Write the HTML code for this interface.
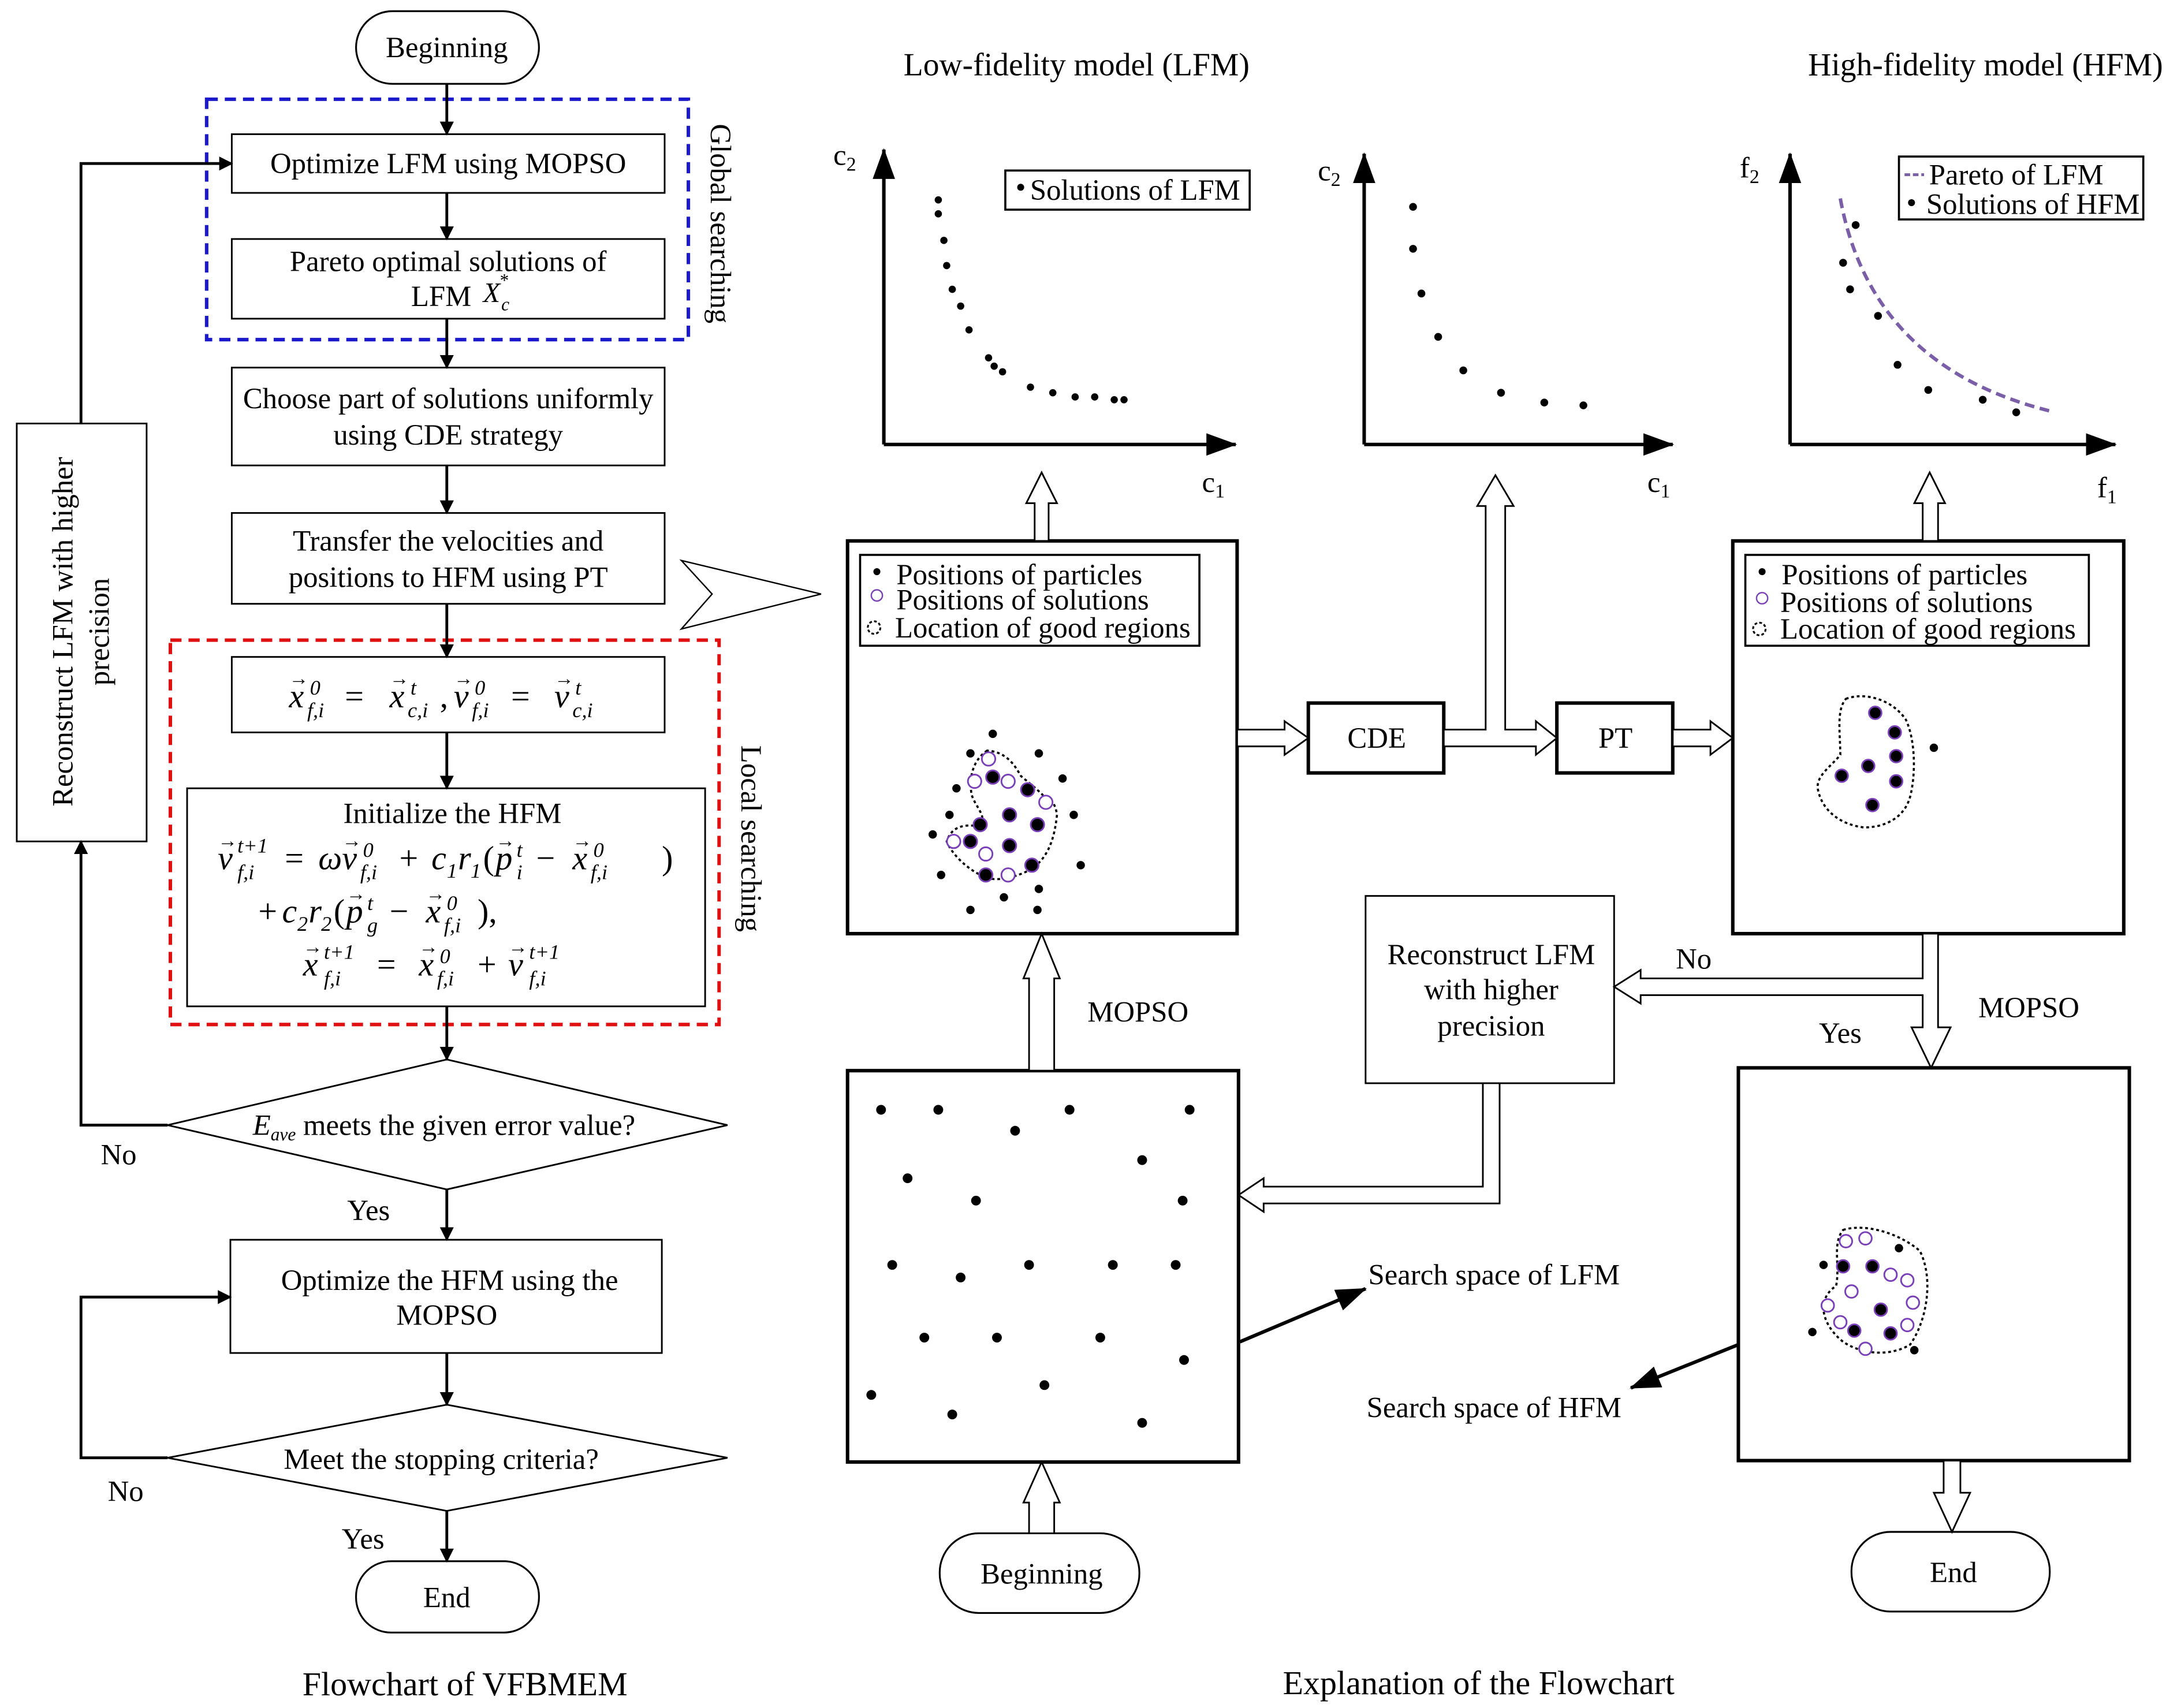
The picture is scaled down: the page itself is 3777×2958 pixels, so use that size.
<!DOCTYPE html>
<html><head><meta charset="utf-8"><style>
html,body{margin:0;padding:0;background:#fff}
svg{display:block}
text{font-family:"Liberation Serif",serif;fill:#000}
.m{font-style:italic;font-size:24px}
.s{font-style:italic;font-size:15px}
.a{font-size:14px}
.n{font-size:24px}
</style></head><body>
<svg width="3777" height="2958" viewBox="0 0 1562 1222" preserveAspectRatio="none" xmlns="http://www.w3.org/2000/svg">
<defs>
<marker id="ah" markerWidth="10" markerHeight="10" refX="9" refY="5" orient="auto" markerUnits="userSpaceOnUse"><path d="M0,0 L10,5 L0,10 z" fill="#000"/></marker>
<marker id="ahb" markerWidth="22" markerHeight="16" refX="21" refY="8" orient="auto" markerUnits="userSpaceOnUse"><path d="M0,0 L22,8 L0,16 z" fill="#000"/></marker>
</defs>
<g font-size="21" text-anchor="middle">
<!-- LEFT FLOWCHART -->
<rect x="255" y="8" width="131" height="52" rx="26" fill="none" stroke="#000" stroke-width="1.3"/>
<text x="320" y="41">Beginning</text>
<rect x="148" y="71" width="345" height="172" fill="none" stroke="#1a1acc" stroke-width="2.5" stroke-dasharray="8,5"/>
<rect x="166" y="96" width="310" height="42" fill="none" stroke="#000" stroke-width="1.2"/>
<text x="321" y="124">Optimize LFM using MOPSO</text>
<rect x="166" y="171" width="310" height="57" fill="none" stroke="#000" stroke-width="1.2"/>
<text x="321" y="194">Pareto optimal solutions of</text>
<text x="316" y="219">LFM</text>
<text x="346" y="216" text-anchor="start" font-style="italic" font-size="20">X</text>
<text x="359" y="222" text-anchor="start" font-style="italic" font-size="13">c</text>
<text x="358" y="205" text-anchor="start" font-size="13">*</text>
<rect x="166" y="263" width="310" height="70" fill="none" stroke="#000" stroke-width="1.2"/>
<text x="321" y="292">Choose part of solutions uniformly</text>
<text x="321" y="318">using CDE strategy</text>
<rect x="166" y="367" width="310" height="65" fill="none" stroke="#000" stroke-width="1.2"/>
<text x="321" y="394">Transfer the velocities and</text>
<text x="321" y="420">positions to HFM using PT</text>
<rect x="122" y="458" width="393" height="275" fill="none" stroke="#e01010" stroke-width="2.5" stroke-dasharray="8,5"/>
<rect x="166" y="470" width="310" height="54" fill="none" stroke="#000" stroke-width="1.2"/>
<g text-anchor="start">
<!-- formula 1 baseline 506 -->
<text class="m" x="207" y="506">x</text><text class="a" x="207" y="490">→</text><text class="s" x="222" y="497">0</text><text class="s" x="220" y="513">f,i</text>
<text class="n" x="247" y="506">=</text>
<text class="m" x="279" y="506">x</text><text class="a" x="279" y="490">→</text><text class="s" x="294" y="497">t</text><text class="s" x="292" y="513">c,i</text>
<text class="n" x="315" y="506">,</text>
<text class="m" x="325" y="506">v</text><text class="a" x="325" y="490">→</text><text class="s" x="340" y="497">0</text><text class="s" x="338" y="513">f,i</text>
<text class="n" x="366" y="506">=</text>
<text class="m" x="397" y="506">v</text><text class="a" x="397" y="490">→</text><text class="s" x="412" y="497">t</text><text class="s" x="410" y="513">c,i</text>

<!-- formula 2 line 1 baseline 622 -->
<text class="m" x="156" y="622">v</text><text class="a" x="156" y="606">→</text><text class="s" x="170" y="610">t+1</text><text class="s" x="170" y="629">f,i</text>
<text class="n" x="204" y="622">=</text>
<text class="m" x="228" y="622">ω</text><text class="m" x="245" y="622">v</text><text class="a" x="245" y="606">→</text><text class="s" x="260" y="613">0</text><text class="s" x="258" y="629">f,i</text>
<text class="n" x="286" y="622">+</text>
<text class="m" x="309" y="622">c</text><text class="s" x="320" y="628">1</text><text class="m" x="328" y="622">r</text><text class="s" x="337" y="628">1</text>
<text class="n" x="346" y="622">(</text>
<text class="m" x="355" y="622">p</text><text class="a" x="355" y="606">→</text><text class="s" x="370" y="613">t</text><text class="s" x="370" y="629">i</text>
<text class="n" x="384" y="622">−</text>
<text class="m" x="410" y="622">x</text><text class="a" x="410" y="606">→</text><text class="s" x="425" y="613">0</text><text class="s" x="423" y="629">f,i</text>
<text class="n" x="474" y="622">)</text>
<!-- line 2 baseline 660 -->
<text class="n" x="185" y="660">+</text>
<text class="m" x="202" y="660">c</text><text class="s" x="213" y="666">2</text><text class="m" x="221" y="660">r</text><text class="s" x="230" y="666">2</text>
<text class="n" x="239" y="660">(</text>
<text class="m" x="248" y="660">p</text><text class="a" x="248" y="644">→</text><text class="s" x="263" y="651">t</text><text class="s" x="263" y="667">g</text>
<text class="n" x="279" y="660">−</text>
<text class="m" x="305" y="660">x</text><text class="a" x="305" y="644">→</text><text class="s" x="320" y="651">0</text><text class="s" x="318" y="667">f,i</text>
<text class="n" x="342" y="660">),</text>
<!-- line 3 baseline 698 -->
<text class="m" x="217" y="698">x</text><text class="a" x="217" y="682">→</text><text class="s" x="232" y="686">t+1</text><text class="s" x="232" y="705">f,i</text>
<text class="n" x="270" y="698">=</text>
<text class="m" x="300" y="698">x</text><text class="a" x="300" y="682">→</text><text class="s" x="315" y="689">0</text><text class="s" x="313" y="705">f,i</text>
<text class="n" x="342" y="698">+</text>
<text class="m" x="364" y="698">v</text><text class="a" x="364" y="682">→</text><text class="s" x="379" y="686">t+1</text><text class="s" x="379" y="705">f,i</text>
</g>
<rect x="134" y="564" width="371" height="156" fill="none" stroke="#000" stroke-width="1.2"/>
<text x="324" y="589">Initialize the HFM</text>
<polygon points="120,805 320,758 521,805 320,851" fill="none" stroke="#000" stroke-width="1.2"/>
<text x="318" y="812"><tspan font-style="italic">E</tspan><tspan font-style="italic" font-size="13" dy="4">ave</tspan><tspan dy="-4"> meets the given error value?</tspan></text>
<rect x="165" y="887" width="309" height="81" fill="none" stroke="#000" stroke-width="1.2"/>
<text x="322" y="923">Optimize the HFM using the</text>
<text x="320" y="948">MOPSO</text>
<polygon points="120,1043 320,1005 521,1043 320,1081" fill="none" stroke="#000" stroke-width="1.2"/>
<text x="316" y="1051">Meet the stopping criteria?</text>
<rect x="255" y="1117" width="131" height="51" rx="25" fill="none" stroke="#000" stroke-width="1.3"/>
<text x="320" y="1150">End</text>
<rect x="12" y="303" width="93" height="299" fill="none" stroke="#000" stroke-width="1.2"/>
<text transform="translate(52,452) rotate(-90)">Reconstruct LFM with higher</text>
<text transform="translate(78,452) rotate(-90)">precision</text>
<text transform="translate(509,160) rotate(90)">Global searching</text>
<text transform="translate(531,600) rotate(90)">Local  searching</text>
<g stroke="#000" stroke-width="2" fill="none" marker-end="url(#ah)">
<line x1="320" y1="60" x2="320" y2="96"/>
<line x1="320" y1="138" x2="320" y2="171"/>
<line x1="320" y1="228" x2="320" y2="263"/>
<line x1="320" y1="333" x2="320" y2="367"/>
<line x1="320" y1="432" x2="320" y2="470"/>
<line x1="320" y1="524" x2="320" y2="564"/>
<line x1="320" y1="720" x2="320" y2="758"/>
<line x1="320" y1="851" x2="320" y2="887"/>
<line x1="320" y1="968" x2="320" y2="1005"/>
<line x1="320" y1="1081" x2="320" y2="1117"/>
<polyline points="120,805 58,805 58,602"/>
<polyline points="58,303 58,117 166,117"/>
<polyline points="120,1043 58,1043 58,928 165,928"/>
</g>
<text x="85" y="833">No</text>
<text x="90" y="1074">No</text>
<text x="264" y="873">Yes</text>
<text x="260" y="1108">Yes</text>
<text x="333" y="1213" font-size="24">Flowchart of VFBMEM</text>
<text x="1059" y="1212" font-size="24">Explanation of the Flowchart</text>
<!-- big chevron -->
<polygon points="488,401 588,425 488,450 510,425" fill="#fff" stroke="#000" stroke-width="1"/>

<!-- RIGHT -->
<text x="771" y="54" font-size="23">Low-fidelity model (LFM)</text>
<text x="1422" y="54" font-size="23">High-fidelity model (HFM)</text>
<g stroke="#000" stroke-width="2.5" fill="none" marker-end="url(#ahb)">
<polyline points="633,318 633,107"/><line x1="633" y1="318" x2="885" y2="318"/>
<polyline points="977,318 977,110"/><line x1="977" y1="318" x2="1198" y2="318"/>
<polyline points="1282,318 1282,110"/><line x1="1282" y1="318" x2="1515" y2="318"/>
</g>
<text x="605" y="118">c<tspan font-size="14" dy="4">2</tspan></text>
<text x="869" y="352">c<tspan font-size="14" dy="4">1</tspan></text>
<text x="952" y="129">c<tspan font-size="14" dy="4">2</tspan></text>
<text x="1188" y="352">c<tspan font-size="14" dy="4">1</tspan></text>
<text x="1253" y="127">f<tspan font-size="14" dy="4">2</tspan></text>
<text x="1509" y="356">f<tspan font-size="14" dy="4">1</tspan></text>
<rect x="720" y="122" width="175" height="28" fill="none" stroke="#000" stroke-width="1.5"/>
<circle cx="731" cy="134" r="2.5"/><text x="813" y="143">Solutions of LFM</text>
<rect x="1360" y="112" width="175" height="45" fill="none" stroke="#000" stroke-width="1.5"/>
<line x1="1364" y1="125" x2="1378" y2="125" stroke="#7a5fa8" stroke-width="2" stroke-dasharray="4,2"/>
<text x="1444" y="132">Pareto of LFM</text>
<circle cx="1369" cy="145" r="2.5"/><text x="1456" y="153">Solutions of HFM</text>
<g fill="#000">
<circle cx="672" cy="143" r="2.6"/><circle cx="672" cy="153" r="2.6"/><circle cx="676" cy="172" r="2.6"/><circle cx="678" cy="190" r="2.6"/><circle cx="682" cy="207" r="2.6"/><circle cx="688" cy="219" r="2.6"/><circle cx="694" cy="236" r="2.6"/><circle cx="708" cy="256" r="2.6"/><circle cx="712" cy="262" r="2.6"/><circle cx="718" cy="266" r="2.6"/><circle cx="738" cy="277" r="2.6"/><circle cx="754" cy="281" r="2.6"/><circle cx="770" cy="284" r="2.6"/><circle cx="784" cy="284" r="2.6"/><circle cx="798" cy="286" r="2.6"/><circle cx="805" cy="286" r="2.6"/>
<circle cx="1012" cy="148" r="2.8"/><circle cx="1012" cy="178" r="2.8"/><circle cx="1018" cy="210" r="2.8"/><circle cx="1030" cy="241" r="2.8"/><circle cx="1048" cy="265" r="2.8"/><circle cx="1075" cy="281" r="2.8"/><circle cx="1106" cy="288" r="2.8"/><circle cx="1134" cy="290" r="2.8"/>
<circle cx="1329" cy="161" r="2.8"/><circle cx="1320" cy="188" r="2.8"/><circle cx="1325" cy="207" r="2.8"/><circle cx="1345" cy="226" r="2.8"/><circle cx="1359" cy="261" r="2.8"/><circle cx="1381" cy="279" r="2.8"/><circle cx="1420" cy="286" r="2.8"/><circle cx="1444" cy="295" r="2.8"/>
</g>
<path d="M1318,142 Q1340,262 1468,294" fill="none" stroke="#7a5fa8" stroke-width="2.5" stroke-dasharray="7,4"/>

<!-- Box A -->
<rect x="607" y="387" width="279" height="281" fill="none" stroke="#000" stroke-width="2.5"/>
<rect x="616" y="397" width="243" height="65" fill="none" stroke="#000" stroke-width="1.5"/>
<circle cx="628" cy="409" r="2.5"/><text x="642" y="418" text-anchor="start">Positions of particles</text>
<circle cx="628" cy="426" r="4" fill="none" stroke="#7a3fb8" stroke-width="1"/><text x="642" y="436" text-anchor="start">Positions of solutions</text>
<circle cx="626" cy="449" r="4.5" fill="none" stroke="#000" stroke-width="1.3" stroke-dasharray="2,1.5"/><text x="641" y="456" text-anchor="start">Location of good regions</text>
<path d="M707,537 C695,545 694,560 696,569 C699,578 708,585 701,591 C692,590 682,590 678,602 C682,612 695,624 707,628 C715,631 730,627 740,621 C750,613 755,602 757,583 C756,575 752,570 747,569 C740,562 733,557 731,555 C726,546 720,538 707,537 Z" fill="none" stroke="#000" stroke-width="1.5" stroke-dasharray="2,2"/>
<g fill="#000">
<circle cx="711" cy="525" r="3"/><circle cx="695" cy="539" r="3"/><circle cx="744" cy="539" r="3"/><circle cx="761" cy="557" r="3"/><circle cx="685" cy="564" r="3"/><circle cx="680" cy="583" r="3"/><circle cx="769" cy="583" r="3"/><circle cx="668" cy="597" r="3"/><circle cx="774" cy="619" r="3"/><circle cx="674" cy="626" r="3"/><circle cx="744" cy="636" r="3"/><circle cx="719" cy="642" r="3"/><circle cx="695" cy="651" r="3"/><circle cx="743" cy="651" r="3"/>
</g>
<g stroke="#7a3fb8" stroke-width="1.2">
<circle cx="711" cy="556" r="4.8"/><circle cx="736" cy="565" r="4.8"/><circle cx="723" cy="583" r="4.8"/><circle cx="743" cy="590" r="4.8"/><circle cx="702" cy="590" r="4.8"/><circle cx="695" cy="602" r="4.8"/><circle cx="723" cy="605" r="4.8"/><circle cx="739" cy="619" r="4.8"/><circle cx="706" cy="626" r="4.8"/>
</g>
<g fill="#fff" stroke="#7a3fb8" stroke-width="1.2">
<circle cx="708" cy="543" r="4.8"/><circle cx="698" cy="559" r="4.8"/><circle cx="722" cy="559" r="4.8"/><circle cx="749" cy="574" r="4.8"/><circle cx="683" cy="602" r="4.8"/><circle cx="706" cy="611" r="4.8"/><circle cx="722" cy="626" r="4.8"/>
</g>

<!-- Box B -->
<rect x="1241" y="387" width="280" height="281" fill="none" stroke="#000" stroke-width="2.5"/>
<rect x="1250" y="397" width="246" height="65" fill="none" stroke="#000" stroke-width="1.5"/>
<circle cx="1262" cy="409" r="2.5"/><text x="1276" y="418" text-anchor="start">Positions of particles</text>
<circle cx="1262" cy="428" r="4" fill="none" stroke="#7a3fb8" stroke-width="1"/><text x="1275" y="438" text-anchor="start">Positions of solutions</text>
<circle cx="1260" cy="450" r="4.5" fill="none" stroke="#000" stroke-width="1.3" stroke-dasharray="2,1.5"/><text x="1275" y="457" text-anchor="start">Location of good regions</text>
<path d="M1322,500 C1335,495 1355,500 1365,515 C1372,530 1372,555 1368,570 C1364,585 1350,592 1335,592 C1318,590 1305,580 1302,565 C1300,555 1312,548 1318,540 C1318,525 1315,508 1322,500 Z" fill="none" stroke="#000" stroke-width="1.5" stroke-dasharray="2,2"/>
<circle cx="1385" cy="535" r="3"/>
<g stroke="#7a3fb8" stroke-width="1.2">
<circle cx="1343" cy="510" r="4.5"/><circle cx="1357" cy="524" r="4.5"/><circle cx="1338" cy="548" r="4.5"/><circle cx="1358" cy="541" r="4.5"/><circle cx="1358" cy="559" r="4.5"/><circle cx="1319" cy="555" r="4.5"/><circle cx="1341" cy="576" r="4.5"/>
</g>

<!-- CDE PT -->
<rect x="937" y="503" width="97" height="50" fill="none" stroke="#000" stroke-width="2.5"/>
<text x="986" y="535">CDE</text>
<rect x="1115" y="503" width="83" height="50" fill="none" stroke="#000" stroke-width="2.5"/>
<text x="1157" y="535">PT</text>

<!-- Reconstruct -->
<rect x="978" y="641" width="178" height="134" fill="none" stroke="#000" stroke-width="1.2"/>
<text x="1068" y="690">Reconstruct LFM</text>
<text x="1068" y="715">with higher</text>
<text x="1068" y="741">precision</text>

<!-- Box C -->
<rect x="607" y="766" width="280" height="280" fill="none" stroke="#000" stroke-width="2.5"/>
<g fill="#000">
<circle cx="631" cy="794" r="3.5"/><circle cx="672" cy="794" r="3.5"/><circle cx="727" cy="809" r="3.5"/><circle cx="766" cy="794" r="3.5"/><circle cx="852" cy="794" r="3.5"/><circle cx="650" cy="843" r="3.5"/><circle cx="818" cy="830" r="3.5"/><circle cx="699" cy="859" r="3.5"/><circle cx="847" cy="859" r="3.5"/><circle cx="639" cy="905" r="3.5"/><circle cx="688" cy="914" r="3.5"/><circle cx="737" cy="905" r="3.5"/><circle cx="797" cy="905" r="3.5"/><circle cx="842" cy="905" r="3.5"/><circle cx="662" cy="957" r="3.5"/><circle cx="714" cy="957" r="3.5"/><circle cx="788" cy="957" r="3.5"/><circle cx="848" cy="973" r="3.5"/><circle cx="624" cy="998" r="3.5"/><circle cx="748" cy="991" r="3.5"/><circle cx="682" cy="1012" r="3.5"/><circle cx="818" cy="1018" r="3.5"/>
</g>

<!-- Box D -->
<rect x="1245" y="764" width="280" height="281" fill="none" stroke="#000" stroke-width="2.5"/>
<path d="M1320,880 C1335,875 1360,882 1375,895 C1385,915 1380,945 1368,962 C1355,970 1335,970 1320,960 C1305,948 1300,930 1315,920 C1318,905 1312,890 1320,880 Z" fill="none" stroke="#000" stroke-width="1.5" stroke-dasharray="2,2"/>
<g fill="#000"><circle cx="1306" cy="905" r="3"/><circle cx="1298" cy="953" r="3"/><circle cx="1371" cy="966" r="3"/><circle cx="1360" cy="893" r="3"/></g>
<g stroke="#7a3fb8" stroke-width="1.2">
<circle cx="1341" cy="906" r="4.5"/><circle cx="1347" cy="937" r="4.5"/><circle cx="1328" cy="952" r="4.5"/><circle cx="1354" cy="954" r="4.5"/><circle cx="1320" cy="906" r="4.5"/>
</g>
<g fill="#fff" stroke="#7a3fb8" stroke-width="1.2">
<circle cx="1322" cy="888" r="4.5"/><circle cx="1336" cy="886" r="4.5"/><circle cx="1354" cy="912" r="4.5"/><circle cx="1366" cy="916" r="4.5"/><circle cx="1370" cy="932" r="4.5"/><circle cx="1326" cy="924" r="4.5"/><circle cx="1309" cy="934" r="4.5"/><circle cx="1336" cy="965" r="4.5"/><circle cx="1318" cy="946" r="4.5"/><circle cx="1366" cy="948" r="4.5"/>
</g>

<!-- pills -->
<rect x="673" y="1097" width="143" height="57" rx="28" fill="none" stroke="#000" stroke-width="1.3"/>
<text x="746" y="1133">Beginning</text>
<rect x="1326" y="1096" width="142" height="57" rx="28" fill="none" stroke="#000" stroke-width="1.3"/>
<text x="1399" y="1132">End</text>

<!-- hollow arrows -->
<g fill="#fff" stroke="#000" stroke-width="1.2">
<polygon points="741,387 741,360 735,360 746,338 757,360 751,360 751,387"/>
<polygon points="1377,387 1377,360 1371,360 1382,338 1393,360 1388,360 1388,387"/>
<polygon points="737,766 737,700 733,700 746,668 759,700 755,700 755,766"/>
<polygon points="737,1097 737,1075 733,1075 746,1046 759,1075 755,1075 755,1097"/>
<polygon points="886,522 920,522 920,516 937,528 920,540 920,534 886,534"/>
<polygon points="1034,522 1064,522 1064,362 1058,362 1071,340 1084,362 1078,362 1078,522 1100,522 1100,516 1115,528 1100,540 1100,534 1034,534"/>
<polygon points="1198,522 1225,522 1225,516 1241,528 1225,540 1225,534 1198,534"/>
<polygon points="1377,668 1377,700 1175,700 1175,694 1156,706 1175,718 1175,712 1377,712 1377,735 1369,735 1383,764 1397,735 1388,735 1388,668"/>
<polygon points="1062,775 1062,849 905,849 905,843 887,855 905,867 905,861 1074,861 1074,775"/>
<polygon points="1392,1045 1392,1068 1385,1068 1398,1096 1411,1068 1404,1068 1404,1045"/>
</g>
<g stroke="#000" stroke-width="2.5" marker-end="url(#ahb)">
<line x1="888" y1="960" x2="978" y2="922"/>
<line x1="1245" y1="962" x2="1168" y2="993"/>
</g>
<text x="1070" y="919">Search space of LFM</text>
<text x="1070" y="1014">Search space of HFM</text>
<text x="815" y="731">MOPSO</text>
<text x="1453" y="728">MOPSO</text>
<text x="1213" y="693">No</text>
<text x="1318" y="746">Yes</text>
</g>
</svg>
</body></html>
